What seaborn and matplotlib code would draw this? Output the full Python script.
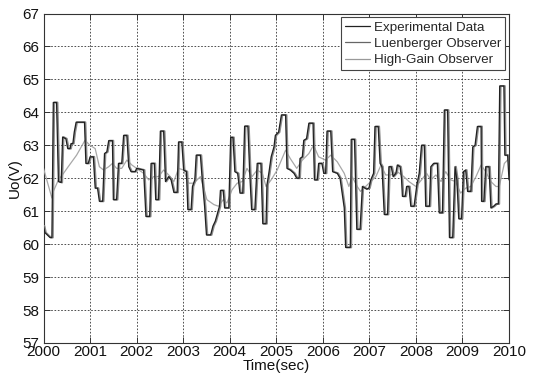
import matplotlib
matplotlib.use("Agg")
import matplotlib.pyplot as plt
import seaborn as sns
import pandas as pd

# Measured output voltage (breakpoints of the sampled record)
exp_time = [
    2000.00, 2000.03, 2000.14, 2000.18, 2000.21, 2000.28, 2000.32, 2000.38, 2000.41, 2000.48,
    2000.52, 2000.57, 2000.59, 2000.63, 2000.66, 2000.70, 2000.88, 2000.91, 2000.96, 2001.00,
    2001.07, 2001.11, 2001.16, 2001.20, 2001.27, 2001.31, 2001.36, 2001.40, 2001.48, 2001.50,
    2001.57, 2001.61, 2001.68, 2001.72, 2001.79, 2001.83, 2001.88, 2001.97, 2002.00, 2002.15,
    2002.20, 2002.28, 2002.31, 2002.38, 2002.41, 2002.47, 2002.51, 2002.58, 2002.62, 2002.69,
    2002.74, 2002.80, 2002.87, 2002.90, 2002.97, 2003.01, 2003.07, 2003.10, 2003.17, 2003.20,
    2003.25, 2003.28, 2003.37, 2003.41, 2003.46, 2003.50, 2003.59, 2003.64, 2003.69, 2003.74,
    2003.78, 2003.80, 2003.86, 2003.89, 2003.98, 2004.02, 2004.07, 2004.11, 2004.17, 2004.22,
    2004.28, 2004.30, 2004.32, 2004.39, 2004.43, 2004.47, 2004.54, 2004.59, 2004.67, 2004.71,
    2004.78, 2004.80, 2004.84, 2004.89, 2004.95, 2004.98, 2005.05, 2005.11, 2005.20, 2005.23,
    2005.30, 2005.38, 2005.44, 2005.49, 2005.51, 2005.56, 2005.59, 2005.65, 2005.70, 2005.79,
    2005.82, 2005.88, 2005.91, 2005.98, 2006.02, 2006.06, 2006.09, 2006.17, 2006.21, 2006.31,
    2006.37, 2006.42, 2006.46, 2006.49, 2006.59, 2006.61, 2006.68, 2006.73, 2006.80, 2006.85,
    2006.94, 2006.99, 2007.03, 2007.09, 2007.12, 2007.19, 2007.23, 2007.27, 2007.32, 2007.39,
    2007.42, 2007.47, 2007.51, 2007.57, 2007.60, 2007.66, 2007.69, 2007.71, 2007.77, 2007.80,
    2007.85, 2007.89, 2007.96, 2008.02, 2008.07, 2008.12, 2008.18, 2008.21, 2008.29, 2008.32,
    2008.38, 2008.46, 2008.50, 2008.57, 2008.61, 2008.68, 2008.72, 2008.79, 2008.84, 2008.88,
    2008.92, 2008.98, 2009.02, 2009.07, 2009.11, 2009.18, 2009.22, 2009.27, 2009.32, 2009.40,
    2009.41, 2009.46, 2009.50, 2009.57, 2009.61, 2009.67, 2009.72, 2009.77, 2009.80, 2009.89,
    2009.91, 2009.97, 2010.00,
]
exp_value = [
    60.55, 60.35, 60.20, 60.20, 64.30, 64.30, 61.90, 61.87, 63.25, 63.20,
    62.90, 62.90, 63.05, 63.05, 63.40, 63.70, 63.70, 62.45, 62.45, 62.65,
    62.65, 61.70, 61.70, 61.30, 61.30, 62.75, 62.80, 63.14, 63.14, 61.35,
    61.35, 62.45, 62.45, 63.30, 63.30, 62.35, 62.20, 62.20, 62.30, 62.25,
    60.84, 60.84, 62.45, 62.45, 61.35, 61.35, 63.43, 63.43, 61.90, 62.05,
    61.95, 61.57, 61.57, 63.10, 63.10, 62.25, 62.20, 61.05, 61.05, 61.75,
    61.95, 62.70, 62.70, 61.95, 61.15, 60.28, 60.28, 60.55, 60.70, 60.95,
    61.15, 61.63, 61.63, 61.10, 61.10, 63.24, 63.24, 62.20, 62.15, 61.55,
    61.55, 62.55, 63.58, 63.58, 62.15, 61.05, 61.05, 62.45, 62.45, 60.62,
    60.62, 61.80, 62.15, 62.65, 62.95, 63.30, 63.40, 63.92, 63.92, 62.30,
    62.25, 62.15, 62.00, 62.00, 62.60, 62.65, 63.15, 63.20, 63.67, 63.67,
    61.95, 61.95, 62.45, 62.45, 62.15, 62.15, 63.43, 63.43, 62.20, 62.15,
    62.00, 61.50, 61.10, 59.90, 59.90, 63.18, 63.18, 60.45, 60.45, 61.75,
    61.67, 61.70, 61.95, 62.15, 63.57, 63.57, 62.45, 62.35, 60.90, 60.90,
    62.35, 62.35, 62.05, 62.15, 62.40, 62.35, 62.00, 61.45, 61.45, 61.75,
    61.75, 61.15, 61.15, 61.80, 62.15, 63.00, 63.00, 61.15, 61.15, 62.35,
    62.45, 62.45, 60.95, 60.95, 64.07, 64.07, 60.20, 60.20, 62.35, 61.95,
    60.77, 60.77, 62.20, 62.25, 61.60, 61.60, 62.95, 63.00, 63.57, 63.57,
    61.30, 61.30, 62.35, 62.35, 61.10, 61.15, 61.22, 61.22, 64.80, 64.80,
    62.70, 62.70, 61.95,
]

# Luenberger observer estimate: same levels, reached slightly later
luen_time = [
    2000.02, 2000.05, 2000.16, 2000.20, 2000.23, 2000.30, 2000.34, 2000.40, 2000.43, 2000.50,
    2000.54, 2000.59, 2000.61, 2000.65, 2000.68, 2000.72, 2000.90, 2000.93, 2000.98, 2001.02,
    2001.09, 2001.13, 2001.18, 2001.22, 2001.29, 2001.33, 2001.38, 2001.42, 2001.50, 2001.52,
    2001.59, 2001.63, 2001.70, 2001.74, 2001.81, 2001.85, 2001.90, 2001.99, 2002.02, 2002.17,
    2002.22, 2002.30, 2002.33, 2002.40, 2002.43, 2002.49, 2002.53, 2002.60, 2002.64, 2002.71,
    2002.76, 2002.82, 2002.89, 2002.92, 2002.99, 2003.03, 2003.09, 2003.12, 2003.19, 2003.22,
    2003.27, 2003.30, 2003.39, 2003.43, 2003.48, 2003.52, 2003.61, 2003.66, 2003.71, 2003.76,
    2003.80, 2003.82, 2003.88, 2003.91, 2004.00, 2004.04, 2004.09, 2004.13, 2004.19, 2004.24,
    2004.30, 2004.32, 2004.34, 2004.41, 2004.45, 2004.49, 2004.56, 2004.61, 2004.69, 2004.73,
    2004.80, 2004.82, 2004.86, 2004.91, 2004.97, 2005.00, 2005.07, 2005.13, 2005.22, 2005.25,
    2005.32, 2005.40, 2005.46, 2005.51, 2005.53, 2005.58, 2005.61, 2005.67, 2005.72, 2005.81,
    2005.84, 2005.90, 2005.93, 2006.00, 2006.04, 2006.08, 2006.11, 2006.19, 2006.23, 2006.33,
    2006.39, 2006.44, 2006.48, 2006.51, 2006.61, 2006.63, 2006.70, 2006.75, 2006.82, 2006.87,
    2006.96, 2007.01, 2007.05, 2007.11, 2007.14, 2007.21, 2007.25, 2007.29, 2007.34, 2007.41,
    2007.44, 2007.49, 2007.53, 2007.59, 2007.62, 2007.68, 2007.71, 2007.73, 2007.79, 2007.82,
    2007.87, 2007.91, 2007.98, 2008.04, 2008.09, 2008.14, 2008.20, 2008.23, 2008.31, 2008.34,
    2008.40, 2008.48, 2008.52, 2008.59, 2008.63, 2008.70, 2008.74, 2008.81, 2008.86, 2008.90,
    2008.94, 2009.00, 2009.04, 2009.09, 2009.13, 2009.20, 2009.24, 2009.29, 2009.34, 2009.42,
    2009.43, 2009.48, 2009.52, 2009.59, 2009.63, 2009.69, 2009.74, 2009.79, 2009.82, 2009.91,
    2009.93, 2009.99, 2010.02,
]
luen_value = exp_value

# High-gain observer estimate (smooth trace)
hg_time = [
    2000.00, 2000.18, 2000.21, 2000.32, 2000.43, 2000.53, 2000.71, 2000.89, 2001.00, 2001.11,
    2001.20, 2001.29, 2001.40, 2001.48, 2001.57, 2001.68, 2001.79, 2001.90, 2002.00, 2002.15,
    2002.26, 2002.37, 2002.47, 2002.58, 2002.69, 2002.80, 2002.90, 2003.01, 2003.12, 2003.23,
    2003.37, 2003.51, 2003.66, 2003.76, 2003.86, 2003.94, 2004.05, 2004.16, 2004.27, 2004.37,
    2004.48, 2004.59, 2004.70, 2004.78, 2004.89, 2005.02, 2005.20, 2005.30, 2005.44, 2005.56,
    2005.70, 2005.80, 2005.91, 2006.06, 2006.17, 2006.31, 2006.46, 2006.56, 2006.63, 2006.74,
    2006.81, 2006.92, 2007.03, 2007.14, 2007.25, 2007.35, 2007.46, 2007.60, 2007.74, 2007.85,
    2008.00, 2008.12, 2008.23, 2008.32, 2008.43, 2008.54, 2008.64, 2008.75, 2008.85, 2008.96,
    2009.07, 2009.18, 2009.29, 2009.40, 2009.50, 2009.61, 2009.72, 2009.79, 2009.90, 2010.00,
]
hg_value = [
    62.30, 61.40, 61.60, 61.95, 62.15, 62.35, 62.70, 63.15, 63.00, 62.90,
    62.35, 62.25, 62.35, 62.45, 62.30, 62.30, 62.55, 62.40, 62.30, 62.15,
    61.95, 62.05, 62.05, 62.25, 62.10, 61.90, 62.30, 62.25, 61.85, 61.85,
    62.05, 61.35, 61.20, 61.15, 61.35, 61.25, 61.65, 61.85, 61.90, 62.30,
    62.05, 62.25, 62.15, 61.75, 61.95, 62.25, 62.85, 62.60, 62.30, 62.55,
    62.75, 63.00, 62.65, 62.55, 62.70, 62.50, 62.15, 61.75, 62.05, 61.75,
    61.60, 61.75, 61.90, 62.05, 62.40, 62.10, 62.10, 62.20, 62.05, 61.90,
    61.75, 61.95, 62.15, 61.95, 62.10, 61.90, 62.20, 61.95, 61.90, 61.55,
    61.70, 61.75, 62.05, 62.40, 62.20, 61.90, 61.75, 61.75, 62.45, 62.60,
]

series_names = ["Experimental Data", "Luenberger Observer", "High-Gain Observer"]
x_ticks = list(range(2000, 2011))
y_ticks = list(range(57, 68))

sns.set_theme(style="white")
plt.rcParams["font.family"] = ["Liberation Sans", "DejaVu Sans"]
plt.rcParams["font.size"] = 11

fig = plt.figure(figsize=(5.34, 3.74), dpi=100)
ax = fig.add_axes([0.0815, 0.0829, 0.8717, 0.881])

df_exp = pd.DataFrame({"t": exp_time, "v": exp_value})
df_luen = pd.DataFrame({"t": luen_time, "v": luen_value})
df_hg = pd.DataFrame({"t": hg_time, "v": hg_value})

sns.lineplot(data=df_hg, x="t", y="v", ax=ax, sort=False, estimator=None,
             color="#a8a8a8", linewidth=0.9, zorder=3)
sns.lineplot(data=df_luen, x="t", y="v", ax=ax, sort=False, estimator=None,
             color="#8a8a8a", linewidth=1.4, zorder=4)
sns.lineplot(data=df_exp, x="t", y="v", ax=ax, sort=False, estimator=None,
             color="#202020", linewidth=0.9, zorder=5)

ax.set_xlim(2000, 2010)
ax.set_ylim(57, 67)
ax.set_xticks(x_ticks)
ax.set_yticks(y_ticks)
ax.set_xticklabels([str(v) for v in x_ticks])
ax.set_yticklabels([str(v) for v in y_ticks])

ax.grid(True, color="#333333", linestyle=(0, (2, 2)), linewidth=0.6)
for side in ax.spines.values():
    side.set_visible(True)
    side.set_color("#333333")
    side.set_linewidth(0.8)
ax.tick_params(direction="in", length=4, width=0.7, color="#333333",
               top=True, right=True, bottom=True, left=True,
               labelsize=11, labelcolor="#111111")
ax.tick_params(axis="x", pad=1.5)
ax.tick_params(axis="y", pad=3)

ax.set_xlabel("Time(sec)", fontsize=11, labelpad=0, color="#111111")
ax.set_ylabel("Uo(V)", fontsize=11, labelpad=0.5, color="#111111")

handles = [
    plt.Line2D([], [], color="#222222", linewidth=0.9),
    plt.Line2D([], [], color="#666666", linewidth=0.9),
    plt.Line2D([], [], color="#999999", linewidth=0.9),
]
leg = ax.legend(handles, series_names, loc="upper right", fontsize=9.6,
                frameon=True, fancybox=False, borderaxespad=0.28,
                handlelength=1.9, handletextpad=0.3, labelspacing=0.3,
                borderpad=0.3)
leg.get_frame().set_edgecolor("#444444")
leg.get_frame().set_linewidth(0.8)
leg.get_frame().set_facecolor("white")
leg.get_frame().set_alpha(1.0)

fig.savefig("out.png", dpi=100)
